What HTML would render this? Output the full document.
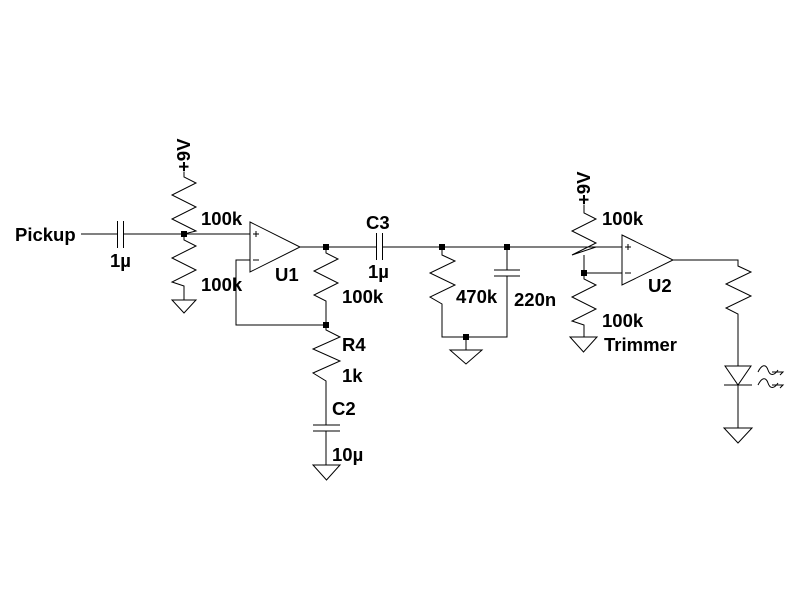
<!DOCTYPE html>
<html><head><style>
html,body{margin:0;padding:0;background:#fff;}
svg{display:block;}
text{font-family:"Liberation Sans",Arial,sans-serif;font-weight:bold;font-size:18.5px;fill:#000;}
</style></head><body>
<svg width="800" height="600" viewBox="0 0 800 600" xmlns="http://www.w3.org/2000/svg">
<g stroke="#000" stroke-width="1" fill="none">
<path d="M81 234H117M123 234H250"/>
<path d="M117.5 221V248M123.5 221V248" />
<path d="M184 172V177L196 183L172 195L196 207L172 219L196 231L184 234"/>
<path d="M184 234V240L196 246L172 258L196 270L172 282L184 286V300"/>
<path d="M172 300H196L184 313Z"/>
<path d="M250 222L300 247L250 272Z"/>
<path d="M253 234H259M256 231V237M253 260H259"/>
<path d="M250 260H236V325H326"/>
<path d="M300 247H376M382 247H622"/>
<path d="M326 247V253L338 259L314 271L338 283L314 295L326 301V325"/>
<path d="M326 325V330L340 337L313 349L340 361L313 373L326 381V425M313 425H340M313 431H340M326 431V465"/>
<path d="M313 465H340L326.5 480Z"/>
<path d="M376.5 233V260M382.5 233V260"/>
<path d="M442 247V255L455 261L430 273L455 285L430 297L442 304V337H507V276M494 276H520M494 270H520M507 270V247"/>
<path d="M466 337V350M450 350H482L466 364Z"/>
<path d="M584 205V213L596 219L572 231L596 243L572 255L596 247"/>
<path d="M584 255V273V279L596 285L572 297L596 309L572 321L584 325V337"/>
<path d="M570 337H597L583.5 352Z"/>
<path d="M584 273H622"/>
<path d="M622 235L673 260L622 285Z"/>
<path d="M625 247H631M628 244V250M625 273H631"/>
<path d="M673 260H738V266L751 272L726 284L751 296L726 308L738 314V366"/>
<path d="M725 366H751L738 385ZM724 385H752M738 385V428"/>
<path d="M724 428H752L738 443Z"/>
<path d="M758 372C762 364 766 364 768 370C770 376 774 376 778 370M772 372H783L780 375M758 385C762 377 766 377 768 383C770 389 774 389 778 383M772 385H783L780 388"/>
</g>
<g fill="#000">
<rect x="181" y="231" width="6" height="6"/>
<rect x="323" y="244" width="6" height="6"/>
<rect x="323" y="322" width="6" height="6"/>
<rect x="439" y="244" width="6" height="6"/>
<rect x="504" y="244" width="6" height="6"/>
<rect x="463" y="334" width="6" height="6"/>
<rect x="581" y="270" width="6" height="6"/>
</g>
<text x="15" y="241">Pickup</text>
<text x="110" y="267">1µ</text>
<text x="201" y="225">100k</text>
<text x="201" y="291">100k</text>
<text x="275" y="281">U1</text>
<text transform="translate(190,172) rotate(-90)">+9V</text>
<text x="342" y="303">100k</text>
<text x="342" y="351">R4</text>
<text x="342" y="382">1k</text>
<text x="332" y="415">C2</text>
<text x="332" y="461">10µ</text>
<text x="366" y="229">C3</text>
<text x="368" y="278">1µ</text>
<text x="456" y="303">470k</text>
<text x="514" y="306">220n</text>
<text transform="translate(590,205) rotate(-90)">+9V</text>
<text x="602" y="225">100k</text>
<text x="648" y="292">U2</text>
<text x="602" y="327">100k</text>
<text x="604" y="351">Trimmer</text>
</svg>
</body></html>
